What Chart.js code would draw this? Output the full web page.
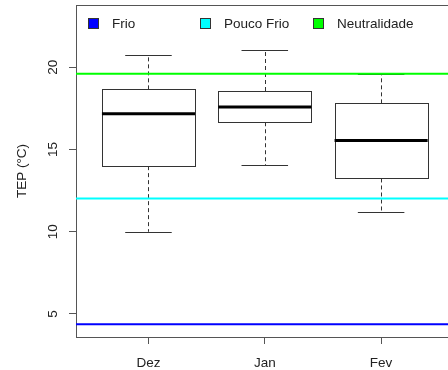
<!DOCTYPE html>
<html>
<head>
<meta charset="utf-8">
<script src="https://cdn.jsdelivr.net/npm/chart.js"></script>
<style>
html, body { margin: 0; padding: 0; background: #fff; overflow: hidden; }
</style>
</head>
<body>
<canvas id="chart" width="448" height="370"></canvas>
<script>
// Boxplot stats per month
const months = ['Dez', 'Jan', 'Fev'];
const whiskerLow = [10.0, 14.03, 11.19];
const quart1 = [13.99, 16.66, 13.24];
const medians = [17.18, 17.59, 15.55];
const quart3 = [18.66, 18.56, 17.81];
const whiskerHigh = [20.77, 21.07, 19.57];

// Reference lines (legend)
const refNames = ['Frio', 'Pouco Frio', 'Neutralidade'];
const refValues = [4.37, 12.02, 19.61];
const refColors = ['#0000ff', '#00ffff', '#00ff00'];

const yTicks = [5, 10, 15, 20];
const xMin = 0.377, xMax = 3.575;
const yMin = 3.6, yMax = 23.79;

Chart.defaults.font.family = '"Liberation Sans", Arial, sans-serif';
Chart.defaults.font.size = 13.5;
Chart.defaults.color = '#222';

// Draws boxes, whiskers and medians through the chart's scales
const boxPlugin = {
    id: 'boxes',
    beforeDatasetsDraw(chart) {
        const { ctx, scales: { x, y } } = chart;
        ctx.save();
        months.forEach((m, i) => {
            const cx = x.getPixelForValue(i + 1);
            const bl = x.getPixelForValue(i + 1 - 0.4);
            const br = x.getPixelForValue(i + 1 + 0.4);
            const cl = x.getPixelForValue(i + 1 - 0.2);
            const cr = x.getPixelForValue(i + 1 + 0.2);
            const yLo = y.getPixelForValue(whiskerLow[i]);
            const yQ1 = y.getPixelForValue(quart1[i]);
            const yMed = y.getPixelForValue(medians[i]);
            const yQ3 = y.getPixelForValue(quart3[i]);
            const yHi = y.getPixelForValue(whiskerHigh[i]);

            ctx.strokeStyle = '#333';
            ctx.lineWidth = 1;
            // dashed whiskers
            ctx.setLineDash([4, 3]);
            ctx.beginPath();
            ctx.moveTo(Math.round(cx) + 0.5, yQ3);
            ctx.lineTo(Math.round(cx) + 0.5, yHi);
            ctx.moveTo(Math.round(cx) + 0.5, yQ1);
            ctx.lineTo(Math.round(cx) + 0.5, yLo);
            ctx.stroke();
            ctx.setLineDash([]);
            // caps
            ctx.beginPath();
            ctx.moveTo(cl, Math.round(yHi) + 0.5);
            ctx.lineTo(cr, Math.round(yHi) + 0.5);
            ctx.moveTo(cl, Math.round(yLo) + 0.5);
            ctx.lineTo(cr, Math.round(yLo) + 0.5);
            ctx.stroke();
            // box
            ctx.fillStyle = '#fff';
            const left = Math.round(bl) + 0.5, top = Math.round(yQ3) + 0.5;
            const w = Math.round(br - bl), h = Math.round(yQ1 - yQ3);
            ctx.fillRect(left, top, w, h);
            ctx.strokeRect(left, top, w, h);
            // median
            ctx.strokeStyle = '#000';
            ctx.lineWidth = 3;
            ctx.beginPath();
            ctx.moveTo(bl, yMed);
            ctx.lineTo(br, yMed);
            ctx.stroke();
        });
        ctx.restore();
    },
    afterDraw(chart) {
        const { ctx, chartArea } = chart;
        ctx.save();
        // top frame line
        ctx.strokeStyle = '#555';
        ctx.lineWidth = 1;
        ctx.beginPath();
        ctx.moveTo(chartArea.left, Math.round(chartArea.top) + 0.5);
        ctx.lineTo(chartArea.right, Math.round(chartArea.top) + 0.5);
        ctx.stroke();
        // legend row
        const legendX = [88, 200, 313];
        const ly = 24;
        ctx.font = '13.5px "Liberation Sans", Arial, sans-serif';
        ctx.textBaseline = 'middle';
        ctx.textAlign = 'left';
        refNames.forEach((name, i) => {
            ctx.fillStyle = refColors[i];
            ctx.fillRect(legendX[i] + 0.5, ly - 5.5, 10, 10);
            ctx.strokeStyle = '#333';
            ctx.strokeRect(legendX[i] + 0.5, ly - 5.5, 10, 10);
            ctx.fillStyle = '#222';
            ctx.fillText(name, legendX[i] + 24, ly);
        });
        ctx.restore();
    }
};

const datasets = refValues.map((v, i) => ({
    label: refNames[i],
    data: [{ x: xMin, y: v }, { x: xMax, y: v }],
    borderColor: refColors[i],
    borderWidth: 2,
    pointRadius: 0,
    showLine: true
}));

new Chart(document.getElementById('chart'), {
    type: 'scatter',
    data: { datasets },
    plugins: [boxPlugin],
    options: {
        responsive: false,
        animation: false,
        layout: { padding: { top: 5, right: 0, left: 0, bottom: 0 } },
        plugins: { legend: { display: false }, tooltip: { enabled: false } },
        scales: {
            x: {
                type: 'linear',
                min: xMin,
                max: xMax,
                afterBuildTicks: s => { s.ticks = [1, 2, 3].map(v => ({ value: v })); },
                afterFit: s => { s.height = 33; s.paddingLeft = 0; s.paddingRight = 0; },
                ticks: { callback: v => months[v - 1], padding: 11 },
                grid: { drawOnChartArea: false, tickLength: 7, color: '#555' },
                border: { color: '#555' }
            },
            y: {
                min: yMin,
                max: yMax,
                afterBuildTicks: s => { s.ticks = yTicks.map(v => ({ value: v })); },
                afterFit: s => { s.width = 76; s.paddingTop = 0; s.paddingBottom = 0; },
                ticks: { minRotation: 90, maxRotation: 90, crossAlign: 'center', padding: 8 },
                grid: { drawOnChartArea: false, tickLength: 7, color: '#555' },
                border: { color: '#555' },
                title: { display: true, text: 'TEP (°C)', padding: { top: 14 } }
            }
        }
    }
});
</script>
</body>
</html>
